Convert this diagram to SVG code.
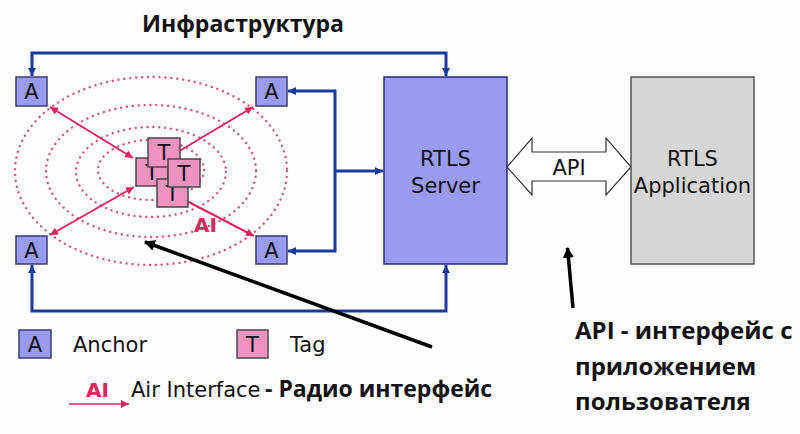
<svg xmlns="http://www.w3.org/2000/svg" width="800" height="434" viewBox="0 0 800 434">
<defs>
<style>
.bg{fill:#fdfdfd}
.anchor{fill:#9a9af0;stroke:#3d3d70;stroke-width:1.5}
.tag{fill:#ee93c0;stroke:#484848;stroke-width:1.5}
.lbl{font-family:"DejaVu Sans","Liberation Sans",sans-serif;font-size:21px;fill:#111;text-anchor:middle}
.leg{font-family:"DejaVu Sans","Liberation Sans",sans-serif;font-size:21px;fill:#111}
.bold{font-family:"Open Sans","DejaVu Sans",sans-serif;font-weight:bold;fill:#111}
.ai{font-family:"DejaVu Sans","Liberation Sans",sans-serif;font-size:20px;font-weight:bold;fill:#e0245e}
.blue{fill:none;stroke:#1c3a9a;stroke-width:3}
.red{fill:none;stroke:#e0245e;stroke-width:2}
.ring{fill:none;stroke:#d05a7c;stroke-width:2.4;stroke-dasharray:0.1 5.8;stroke-linecap:round}
.black{fill:none;stroke:#000;stroke-width:3.5}
</style>
<marker id="ab" viewBox="0 0 8 8" refX="8" refY="4" markerWidth="8" markerHeight="8" markerUnits="userSpaceOnUse" orient="auto-start-reverse"><path d="M0,0 L8,4 L0,8 z" fill="#1c3a9a"/></marker>
<marker id="ar" viewBox="0 0 8 8" refX="8" refY="4" markerWidth="8" markerHeight="8" markerUnits="userSpaceOnUse" orient="auto-start-reverse"><path d="M0,0 L8,4 L0,8 z" fill="#e0245e"/></marker>
<marker id="ak" viewBox="0 0 10 10" refX="9" refY="5" markerWidth="11" markerHeight="11" markerUnits="userSpaceOnUse" orient="auto"><path d="M0,0 L10,5 L0,10 z" fill="#000"/></marker>
</defs>
<rect class="bg" x="0" y="0" width="800" height="434"/>

<text class="bold" x="243" y="32" font-size="23" text-anchor="middle">Инфраструктура</text>

<g id="rings">
<ellipse class="ring" cx="151" cy="171" rx="136" ry="94"/>
<ellipse class="ring" cx="151" cy="171" rx="105" ry="66"/>
<ellipse class="ring" cx="151" cy="172" rx="75" ry="45"/>
<ellipse class="ring" cx="151" cy="170" rx="53" ry="30"/>
</g>

<g id="connectors">
<path class="blue" d="M32,76 V53 H446 V76" marker-start="url(#ab)" marker-end="url(#ab)"/>
<path class="blue" d="M32,265 V311 H446 V265" marker-start="url(#ab)" marker-end="url(#ab)"/>
<path class="blue" d="M288,91 H335 V251 H288" marker-start="url(#ab)" marker-end="url(#ab)"/>
<path class="blue" d="M335,171 H383" marker-end="url(#ab)"/>
<path class="red" d="M50,107 L133,158" marker-start="url(#ar)" marker-end="url(#ar)"/>
<path class="red" d="M253,107 L176,153" marker-start="url(#ar)"/>
<path class="red" d="M50,235 L134,187" marker-start="url(#ar)" marker-end="url(#ar)"/>
<path class="red" d="M183,199 L254,236" marker-end="url(#ar)"/>
<path class="black" d="M432,347 L145,242" marker-end="url(#ak)"/>
<path class="black" d="M573,308 L567.5,248" marker-end="url(#ak)"/>
<path d="M507,167 L532,138 L532,152 L606,152 L606,138 L631,167 L606,195 L606,181 L532,181 L532,195 Z" fill="#fff" stroke="#333" stroke-width="1.2"/>
<text class="lbl" x="569" y="175">API</text>
</g>

<g id="anchor-tl"><rect class="anchor" x="16" y="77" width="31" height="29"/><text class="lbl" x="31.5" y="99">A</text></g>
<g id="anchor-tr"><rect class="anchor" x="256" y="77" width="31" height="29"/><text class="lbl" x="271.5" y="99">A</text></g>
<g id="anchor-bl"><rect class="anchor" x="16" y="236" width="31" height="28"/><text class="lbl" x="31.5" y="258">A</text></g>
<g id="anchor-br"><rect class="anchor" x="256" y="236" width="31" height="28"/><text class="lbl" x="271.5" y="258">A</text></g>

<g id="tag-1"><rect class="tag" x="136" y="158" width="32" height="28"/><text class="lbl" x="152" y="180">T</text></g>
<g id="tag-2"><rect class="tag" x="148" y="138" width="32" height="29"/><text class="lbl" x="164" y="160">T</text></g>
<g id="tag-3"><rect class="tag" x="157" y="179" width="31" height="28"/><text class="lbl" x="172.5" y="201">T</text></g>
<g id="tag-4"><rect class="tag" x="168" y="159" width="32" height="28"/><text class="lbl" x="184" y="181">T</text></g>

<text class="ai" x="194" y="232">AI</text>

<g id="server"><rect x="384" y="77" width="123" height="187" fill="#9a9af0" stroke="#2a2a80" stroke-width="1.5"/>
<text class="lbl" x="445.5" y="166">RTLS</text><text class="lbl" x="445.5" y="193">Server</text></g>
<g id="application"><rect x="631" y="77" width="123" height="187" fill="#d6d6d6" stroke="#555" stroke-width="1.5"/>
<text class="lbl" x="692.5" y="166">RTLS</text><text class="lbl" x="692.5" y="193">Application</text></g>

<g id="legend">
<rect class="anchor" x="19" y="330" width="32" height="28"/><text class="lbl" x="35" y="352">A</text>
<text class="leg" x="73" y="352">Anchor</text>
<rect class="tag" x="237" y="330" width="31" height="28"/><text class="lbl" x="252.5" y="352">T</text>
<text class="leg" x="290" y="352">Tag</text>
<text class="ai" x="86" y="397">AI</text>
<path d="M69,404 H129" stroke="#e0245e" stroke-width="1.5" fill="none" marker-end="url(#ar)"/>
<text class="leg" x="131" y="397" font-size="20">Air Interface</text>
<text class="bold" x="265" y="397" font-size="23">- Радио интерфейс</text>
</g>

<g id="api-note">
<text class="bold" x="575" y="339" font-size="24">API - интерфейс с</text>
<text class="bold" x="575" y="375" font-size="24">приложением</text>
<text class="bold" x="575" y="410" font-size="24">пользователя</text>
</g>
</svg>
